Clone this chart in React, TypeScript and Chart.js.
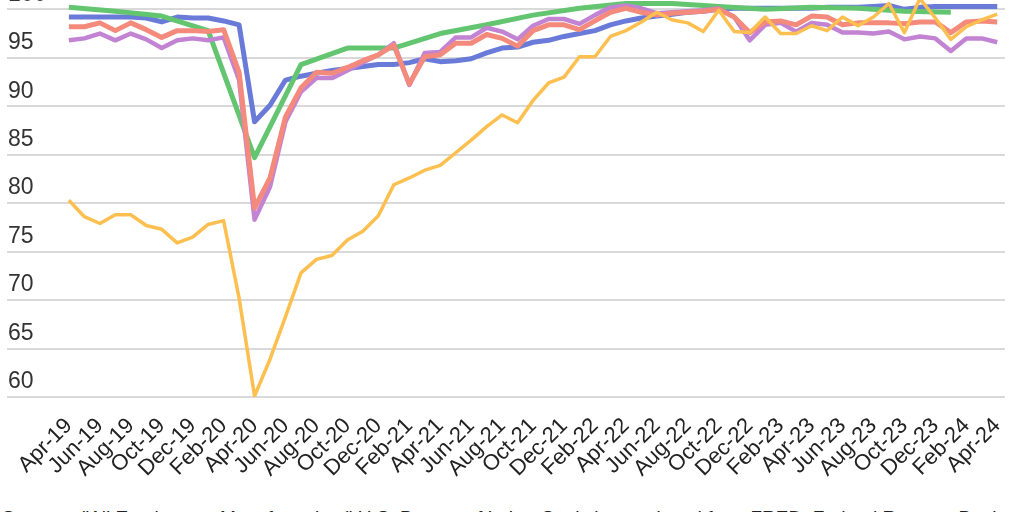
import React, { useEffect, useRef } from "react";
import { Chart, registerables } from "chart.js";

Chart.register(...registerables);

const months = [
  "Apr-19", "May-19", "Jun-19", "Jul-19", "Aug-19", "Sep-19", "Oct-19", "Nov-19", "Dec-19",
  "Jan-20", "Feb-20", "Mar-20", "Apr-20", "May-20", "Jun-20", "Jul-20", "Aug-20", "Sep-20",
  "Oct-20", "Nov-20", "Dec-20", "Jan-21", "Feb-21", "Mar-21", "Apr-21", "May-21", "Jun-21",
  "Jul-21", "Aug-21", "Sep-21", "Oct-21", "Nov-21", "Dec-21", "Jan-22", "Feb-22", "Mar-22",
  "Apr-22", "May-22", "Jun-22", "Jul-22", "Aug-22", "Sep-22", "Oct-22", "Nov-22", "Dec-22",
  "Jan-23", "Feb-23", "Mar-23", "Apr-23", "May-23", "Jun-23", "Jul-23", "Aug-23", "Sep-23",
  "Oct-23", "Nov-23", "Dec-23", "Jan-24", "Feb-24", "Mar-24", "Apr-24",
];

const seriesBlue = [
  99.2, 99.2, 99.2, 99.2, 99.2, 99.1, 98.7, 99.2, 99.1, 99.1, 98.8, 98.4,
  88.4, 90.1, 92.7, 93.1, 93.4, 93.7, 93.9, 94.1, 94.3, 94.3, 94.5, 94.9,
  94.6, 94.7, 94.9, 95.5, 96.0, 96.1, 96.6, 96.8, 97.2, 97.5, 97.8, 98.4,
  98.8, 99.1, 99.3, 99.5, 99.7, 99.8, 100.0, 100.1, 100.1, 100.1, 100.1, 100.1,
  100.1, 100.2, 100.2, 100.2, 100.3, 100.4, 100.0, 100.2, 100.3, 100.3, 100.3, 100.3, 100.3,
];

const seriesRed = [
  98.2, 98.2, 98.6, 97.8, 98.6, 97.9, 97.1, 97.8, 97.8, 97.7, 97.9, 93.5,
  79.5, 82.6, 88.9, 91.9, 93.5, 93.4, 94.0, 94.7, 95.3, 96.3, 92.3, 95.1,
  95.3, 96.5, 96.5, 97.4, 97.0, 96.2, 97.8, 98.4, 98.4, 97.9, 98.8, 99.7,
  100.1, 99.7, 99.4, 99.6, 99.7, 99.8, 100.0, 99.2, 97.6, 98.7, 98.8, 98.4,
  99.3, 99.2, 98.4, 98.6, 98.6, 98.6, 98.5, 98.7, 98.7, 97.6, 98.7, 98.8, 98.7,
];

const seriesPurple = [
  96.8, 97.0, 97.5, 96.8, 97.5, 96.9, 96.0, 96.8, 97.0, 96.8, 97.1, 92.7,
  78.3, 81.7, 88.4, 91.5, 92.9, 92.9, 93.7, 94.5, 95.3, 96.5, 92.2, 95.5,
  95.6, 97.1, 97.1, 98.1, 97.7, 96.9, 98.3, 99.0, 99.0, 98.5, 99.4, 100.2,
  100.4, 100.1, 99.6, 99.7, 99.8, 99.9, 100.1, 99.2, 96.8, 98.4, 98.6, 97.7,
  98.6, 98.4, 97.6, 97.6, 97.5, 97.7, 96.9, 97.2, 97.0, 95.7, 97.0, 97.0, 96.6,
];

const seriesYellow = [
  80.3, 78.6, 77.9, 78.8, 78.8, 77.7, 77.3, 75.9, 76.5, 77.8, 78.2, 70.2,
  60.1, 63.9, 68.3, 72.8, 74.2, 74.6, 76.2, 77.1, 78.7, 81.9, 82.6, 83.4,
  83.9, 85.2, 86.5, 87.9, 89.1, 88.3, 90.6, 92.4, 93.0, 95.1, 95.1, 97.2,
  97.8, 98.7, 99.7, 98.9, 98.6, 97.7, 99.9, 97.7, 97.6, 99.2, 97.5, 97.5,
  98.3, 97.8, 99.2, 98.3, 99.2, 100.6, 97.6, 101.1, 99.1, 96.9, 98.2, 98.9, 99.5,
];

// Quarterly series (values only at quarter months)
const seriesGreen = [
  100.2, null, null, 99.8, null, null, 99.3, null, null, 97.8, null, null,
  84.7, null, null, 94.3, null, null, 96.0, null, null, 96.0, null, null,
  97.5, null, null, 98.4, null, null, 99.4, null, null, 100.1, null, null,
  100.6, null, null, 100.6, null, null, 100.3, null, null, 100.0, null, null,
  100.2, null, null, 100.1, null, null, 99.8, null, null, 99.7, null, null, null,
];

const yTickValues = [60, 65, 70, 75, 80, 85, 90, 95, 100];

const sourceText =
  'Sources: "All Employees, Manufacturing," U.S. Bureau of Labor Statistics, retrieved from FRED, Federal Reserve Bank';

export default function App() {
  const canvasRef = useRef<HTMLCanvasElement | null>(null);

  useEffect(() => {
    const canvas = canvasRef.current;
    if (!canvas) return;
    const toPoints = (arr: (number | null)[]) => arr.map((v, i) => ({ x: i, y: v }));

    const chart = new Chart(canvas, {
      type: "line",
      data: {
        datasets: [
          { label: "Yellow", data: toPoints(seriesYellow) as any, borderColor: "#fdbf50", borderWidth: 3.5, order: 1 },
          { label: "Red", data: toPoints(seriesRed) as any, borderColor: "#f48a7b", borderWidth: 5, order: 2 },
          { label: "Purple", data: toPoints(seriesPurple) as any, borderColor: "#c283d3", borderWidth: 4.5, order: 3 },
          { label: "Green", data: toPoints(seriesGreen) as any, borderColor: "#63c56f", borderWidth: 5, order: 4, spanGaps: true },
          { label: "Blue", data: toPoints(seriesBlue) as any, borderColor: "#6a7ad8", borderWidth: 5, order: 5 },
        ],
      },
      options: {
        animation: false,
        responsive: false,
        maintainAspectRatio: false,
        layout: { padding: { left: 5, right: 12, top: 0, bottom: 0 } },
        plugins: { legend: { display: false }, tooltip: { enabled: false } },
        elements: {
          point: { radius: 0 },
          line: { tension: 0, fill: false, borderJoinStyle: "round" },
        },
        scales: {
          x: {
            type: "linear",
            min: -4,
            max: 60.5,
            grid: { display: false },
            border: { display: false },
            afterBuildTicks: (scale: any) => {
              scale.ticks = months
                .map((_, i) => ({ value: i }))
                .filter((t) => t.value % 2 === 0);
            },
            afterFit: (scale: any) => {
              scale.height = 83;
            },
            ticks: {
              autoSkip: false,
              maxRotation: 45,
              minRotation: 45,
              padding: 8,
              color: "#222",
              font: { family: "Liberation Sans", size: 22 },
              callback: (v: any) => months[v as number] ?? "",
            },
          },
          y: {
            min: 60,
            max: 100.96,
            afterBuildTicks: (scale: any) => {
              scale.ticks = yTickValues.map((v) => ({ value: v }));
            },
            afterFit: (scale: any) => {
              scale.paddingTop = 0;
              scale.paddingBottom = 0;
            },
            grid: { color: "#d9d9d9", lineWidth: 2, drawTicks: false },
            border: { display: false },
            ticks: {
              mirror: true,
              padding: 1,
              labelOffset: -15,
              color: "#333",
              font: { family: "Liberation Sans", size: 23 },
              callback: (v: any) => String(v),
            },
          },
        },
      },
    });
    return () => chart.destroy();
  }, []);

  return (
    <div style={{ position: "fixed", left: 0, top: 0, width: 1024, height: 512, background: "#fff", overflow: "hidden" }}>
      <canvas ref={canvasRef} width={1024} height={480} style={{ display: "block" }} />
      <div
        style={{
          position: "absolute",
          left: 2,
          top: 508,
          whiteSpace: "nowrap",
          fontFamily: "Liberation Sans",
          fontSize: 19,
          lineHeight: "19px",
          color: "#222",
        }}
      >
        {sourceText}
      </div>
    </div>
  );
}
